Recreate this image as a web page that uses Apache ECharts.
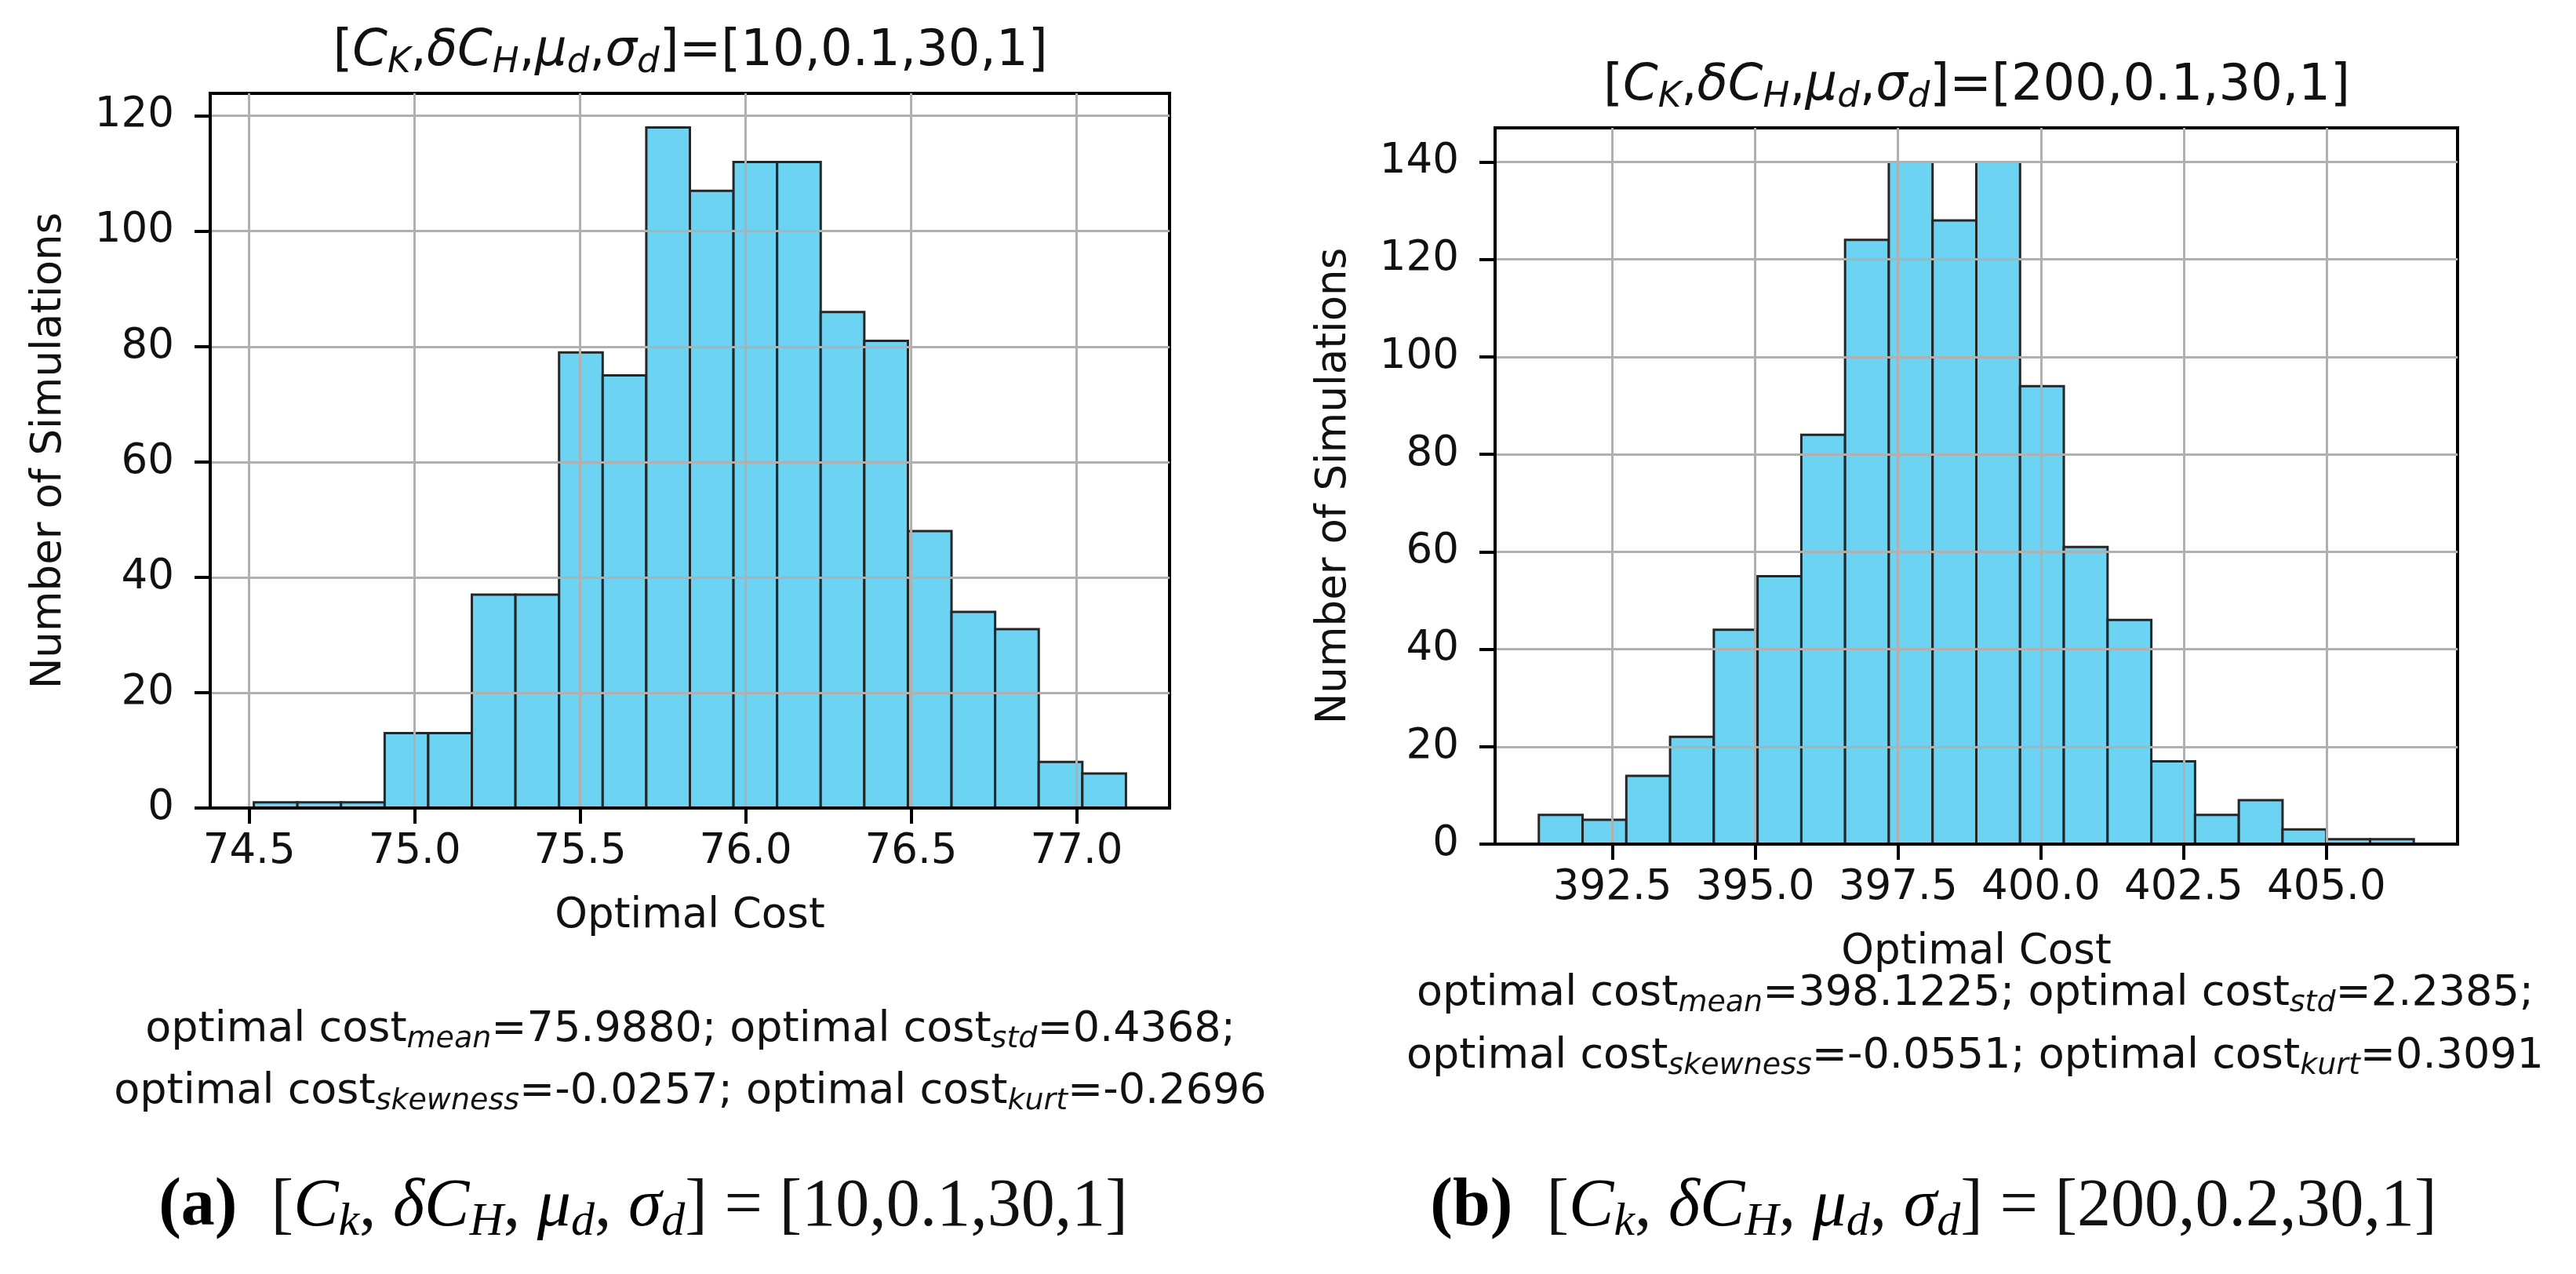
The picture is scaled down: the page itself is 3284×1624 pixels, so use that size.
<!DOCTYPE html>
<html>
<head>
<meta charset="utf-8">
<script src="https://cdn.jsdelivr.net/npm/echarts@6/dist/echarts.min.js"></script>
<style>
html, body { margin: 0; padding: 0; background: #fff; }
#chart { width: 3284px; height: 1624px; }
</style>
</head>
<body>
<div id="chart"></div>
<script>
// (a) C_K = 10 : 20 equal bins between smallest and largest simulated cost
var binRangeA = [74.514, 77.149];
var countsA = [1, 1, 1, 13, 13, 37, 37, 79, 75, 118, 107, 112, 112, 86, 81, 48, 34, 31, 8, 6];
var xTicksA = [74.5, 75.0, 75.5, 76.0, 76.5, 77.0];
var yTicksA = [0, 20, 40, 60, 80, 100, 120];

// (b) C_K = 200
var binRangeB = [391.21, 406.53];
var countsB = [6, 5, 14, 22, 44, 55, 84, 124, 140, 128, 140, 94, 61, 46, 17, 6, 9, 3, 1, 1];
var xTicksB = [392.5, 395.0, 397.5, 400.0, 402.5, 405.0];
var yTicksB = [0, 20, 40, 60, 80, 100, 120, 140];

var titleA = '[{i|C}{s|K},{i|δC}{s|H},{i|μ}{s|d},{i|σ}{s|d}]=[10,0.1,30,1]';
var titleB = '[{i|C}{s|K},{i|δC}{s|H},{i|μ}{s|d},{i|σ}{s|d}]=[200,0.1,30,1]';
var statsA = [
  'optimal cost{s|mean}=75.9880; optimal cost{s|std}=0.4368;',
  'optimal cost{s|skewness}=-0.0257; optimal cost{s|kurt}=-0.2696'
];
var statsB = [
  'optimal cost{s|mean}=398.1225; optimal cost{s|std}=2.2385;',
  'optimal cost{s|skewness}=-0.0551; optimal cost{s|kurt}=0.3091'
];
var captionA = '{b|(a)}  [{i|C}{si|k}, {i|δC}{si|H}, {i|μ}{si|d}, {i|σ}{si|d}] = [10,0.1,30,1]';
var captionB = '{b|(b)}  [{i|C}{si|k}, {i|δC}{si|H}, {i|μ}{si|d}, {i|σ}{si|d}] = [200,0.2,30,1]';

var font = 'DejaVu Sans';
var serif = 'Liberation Serif';
var ink = '#111';

var chart = echarts.init(document.getElementById('chart'));

function toBins(range, counts) {
  var w = (range[1] - range[0]) / counts.length;
  return counts.map(function (c, i) {
    return [range[0] + i * w, range[0] + (i + 1) * w, c];
  });
}

// matplotlib keeps a 5% margin either side of the data
function padded(range) {
  var d = (range[1] - range[0]) * 0.05;
  return [range[0] - d, range[1] + d];
}

function renderBin(params, api) {
  var top = api.coord([api.value(0), api.value(2)]);
  var base = api.coord([api.value(1), 0]);
  return {
    type: 'rect',
    shape: { x: top[0], y: top[1], width: base[0] - top[0], height: base[1] - top[1] },
    style: { fill: '#6cd3f2', stroke: '#262626', lineWidth: 3 }
  };
}

function xAxisFor(idx, range, ticks) {
  var ext = padded(range);
  return {
    type: 'value', gridIndex: idx, min: ext[0], max: ext[1], z: 10,
    name: 'Optimal Cost', nameLocation: 'middle', nameGap: 112,
    nameTextStyle: { fontFamily: font, fontSize: 53, color: ink },
    axisLine: { show: true, onZero: false, lineStyle: { color: '#000', width: 4 } },
    axisTick: { show: true, length: 20, lineStyle: { color: '#000', width: 4 }, customValues: ticks },
    axisLabel: {
      customValues: ticks, fontFamily: font, fontSize: 53, color: ink, margin: 30,
      formatter: function (v) { return v.toFixed(1); }
    },
    splitLine: { show: true, lineStyle: { color: '#b0b0b0', width: 3 } }
  };
}

function yAxisFor(idx, counts, ticks) {
  return {
    type: 'value', gridIndex: idx, min: 0, max: Math.max.apply(null, counts) * 1.05, z: 10,
    name: 'Number of Simulations', nameLocation: 'middle', nameGap: 178, nameRotate: 90,
    nameTextStyle: { fontFamily: font, fontSize: 53, color: ink },
    axisLine: { show: true, lineStyle: { color: '#000', width: 4 } },
    axisTick: { show: true, length: 20, lineStyle: { color: '#000', width: 4 }, customValues: ticks },
    axisLabel: { customValues: ticks, fontFamily: font, fontSize: 53, color: ink, margin: 46 },
    splitLine: { show: true, lineStyle: { color: '#b0b0b0', width: 3 } }
  };
}

var mathRich = {
  i: { fontFamily: font, fontStyle: 'italic', fontSize: 64, fill: ink },
  s: { fontFamily: font, fontStyle: 'italic', fontSize: 45, verticalAlign: 'bottom', lineHeight: 52, fill: ink }
};
var statRich = {
  s: { fontFamily: font, fontStyle: 'italic', fontSize: 38, verticalAlign: 'bottom', lineHeight: 44, fill: ink }
};
var capRich = {
  b: { fontFamily: serif, fontWeight: 'bold', fontSize: 86, fill: '#000' },
  i: { fontFamily: serif, fontStyle: 'italic', fontSize: 86, fill: '#000' },
  si: { fontFamily: serif, fontStyle: 'italic', fontSize: 60, verticalAlign: 'bottom', lineHeight: 66, fill: '#000' }
};

function label(text, x, y, size, family, rich) {
  return {
    type: 'text', x: x, y: y, z: 20,
    style: {
      text: text, fontFamily: family, fontSize: size, fill: ink, lineHeight: size * 1.15,
      align: 'center', verticalAlign: 'middle', rich: rich
    }
  };
}

option = {
  backgroundColor: '#fff',
  animation: false,
  grid: [
    { left: 268, top: 119, width: 1223, height: 911, show: true, borderColor: '#000', borderWidth: 4 },
    { left: 1906, top: 163, width: 1227, height: 913, show: true, borderColor: '#000', borderWidth: 4 }
  ],
  xAxis: [xAxisFor(0, binRangeA, xTicksA), xAxisFor(1, binRangeB, xTicksB)],
  yAxis: [yAxisFor(0, countsA, yTicksA), yAxisFor(1, countsB, yTicksB)],
  series: [
    { type: 'custom', xAxisIndex: 0, yAxisIndex: 0, renderItem: renderBin,
      encode: { x: [0, 1], y: 2 }, data: toBins(binRangeA, countsA) },
    { type: 'custom', xAxisIndex: 1, yAxisIndex: 1, renderItem: renderBin,
      encode: { x: [0, 1], y: 2 }, data: toBins(binRangeB, countsB) }
  ],
  graphic: [
    label(titleA, 880, 66, 64, font, mathRich),
    label(titleB, 2520, 110, 64, font, mathRich),
    label(statsA[0], 880, 1313, 54, font, statRich),
    label(statsA[1], 880, 1392, 54, font, statRich),
    label(statsB[0], 2518, 1267, 54, font, statRich),
    label(statsB[1], 2518, 1347, 54, font, statRich),
    label(captionA, 820, 1539, 86, serif, capRich),
    label(captionB, 2465, 1539, 86, serif, capRich)
  ]
};

if (option && typeof option === 'object') {
  chart.setOption(option, true);
}
</script>
</body>
</html>
